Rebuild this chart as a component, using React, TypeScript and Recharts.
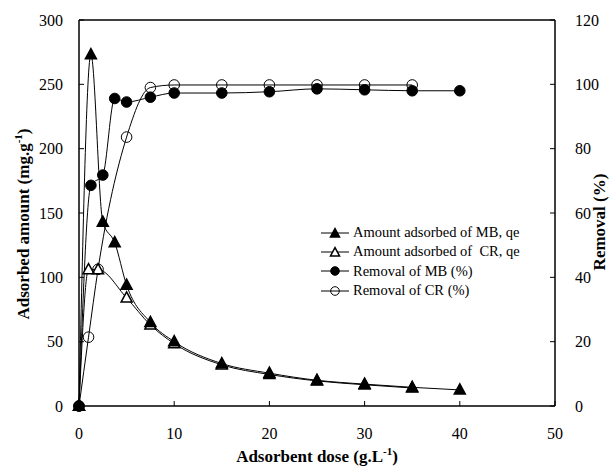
import { LineChart, Line, XAxis, YAxis, ReferenceLine } from 'recharts';

const doseMB = [0, 1.25, 2.5, 3.75, 5, 7.5, 10, 15, 20, 25, 30, 35, 40];
const qeMB = [0, 273, 143, 127, 94, 65, 50, 33, 25.5, 20, 17, 14.5, 12.5];
const removalMB = [0, 68.6, 71.8, 95.6, 94.5, 96, 97.3, 97.3, 97.7, 98.6, 98.3, 98, 98];

const doseCR = [0, 1, 2, 5, 7.5, 10, 15, 20, 25, 30, 35];
const qeCR = [0, 106, 106, 84, 63, 48.5, 32, 24.5, 19.5, 16.5, 14];
const removalCR = [0, 21.4, 42.5, 83.6, 99, 99.8, 99.8, 99.8, 99.8, 99.8, 99.8];

const xTicks = [0, 10, 20, 30, 40, 50];
const leftTicks = [0, 50, 100, 150, 200, 250, 300];
const rightTicks = [0, 20, 40, 60, 80, 100, 120];

const legendItems = [
  { label: 'Amount adsorbed of MB, qe', shape: 'triangle', filled: true },
  { label: 'Amount adsorbed of  CR, qe', shape: 'triangle', filled: false },
  { label: 'Removal of MB (%)', shape: 'circle', filled: true },
  { label: 'Removal of CR (%)', shape: 'circle', filled: false }
];

const font = '"Liberation Serif", "DejaVu Serif", "Times New Roman", Times, serif';

const toPoints = (xs: number[], ys: number[]) => xs.map((x, i) => ({ x, y: ys[i] }));

const Triangle = ({ cx, cy, filled, s = 5.5 }: any) => (
  <path
    d={`M${cx},${cy - s * 1.1}L${cx - s},${cy + s * 0.75}L${cx + s},${cy + s * 0.75}Z`}
    fill={filled ? '#000' : '#fff'}
    stroke='#000'
    strokeWidth={1.5}
  />
);

const Circle = ({ cx, cy, filled, r = 5.3 }: any) => (
  <circle cx={cx} cy={cy} r={r} fill={filled ? '#000' : 'none'} stroke='#000' strokeWidth={1} />
);

const makeDot = (shape: string, filled: boolean) => (props: any) => {
  const { cx, cy, index } = props;
  if (cx == null || cy == null) return <g key={index} />;
  return shape === 'triangle' ? (
    <Triangle key={index} cx={cx} cy={cy} filled={filled} />
  ) : (
    <Circle key={index} cx={cx} cy={cy} filled={filled} />
  );
};

const tickStyle = { fill: '#000', fontSize: 16, fontFamily: font };

const App = () => {
  return (
    <div style={{ position: 'absolute', left: 0, top: 0, width: 613, height: 470, background: '#fff', fontFamily: font }}>
      <LineChart width={613} height={470} margin={{ top: 20, right: 0, bottom: 0, left: 0 }} style={{ fontFamily: font }}>
        <XAxis
          type='number'
          dataKey='x'
          domain={[0, 50]}
          ticks={xTicks}
          height={64}
          tickSize={-5}
          tickMargin={27}
          axisLine={{ stroke: '#000', strokeWidth: 1.5 }}
          tickLine={{ stroke: '#000' }}
          tick={tickStyle}
        />
        <YAxis
          yAxisId='left'
          domain={[0, 300]}
          ticks={leftTicks}
          width={79}
          tickSize={-5}
          tickMargin={21}
          axisLine={{ stroke: '#000', strokeWidth: 1.5 }}
          tickLine={{ stroke: '#000' }}
          tick={tickStyle}
        />
        <YAxis
          yAxisId='right'
          orientation='right'
          domain={[0, 120]}
          ticks={rightTicks}
          width={58}
          tickSize={-5}
          tickMargin={25}
          axisLine={{ stroke: '#000', strokeWidth: 1.5 }}
          tickLine={{ stroke: '#000' }}
          tick={{ ...tickStyle, textAnchor: 'start' }}
        />
        <ReferenceLine yAxisId='left' y={300} stroke='#000' strokeWidth={1.5} />
        <Line
          yAxisId='left'
          data={toPoints(doseCR, qeCR)}
          dataKey='y'
          type='monotone'
          stroke='#000'
          strokeWidth={1}
          dot={makeDot('triangle', false)}
          isAnimationActive={false}
        />
        <Line
          yAxisId='left'
          data={toPoints(doseMB, qeMB)}
          dataKey='y'
          type='monotone'
          stroke='#000'
          strokeWidth={1}
          dot={makeDot('triangle', true)}
          isAnimationActive={false}
        />
        <Line
          yAxisId='right'
          data={toPoints(doseMB, removalMB)}
          dataKey='y'
          type='monotone'
          stroke='#000'
          strokeWidth={1}
          dot={makeDot('circle', true)}
          isAnimationActive={false}
        />
        <Line
          yAxisId='right'
          data={toPoints(doseCR, removalCR)}
          dataKey='y'
          type='monotone'
          stroke='#000'
          strokeWidth={1}
          dot={makeDot('circle', false)}
          isAnimationActive={false}
        />
      </LineChart>

      {/* axis titles */}
      <div
        style={{
          position: 'absolute',
          left: 23,
          top: 224,
          transform: 'translate(-50%, -50%) rotate(-90deg)',
          whiteSpace: 'nowrap',
          fontFamily: font,
          fontWeight: 'bold',
          fontSize: 17
        }}
      >
        Adsorbed amount (mg.g<sup style={{ fontSize: 11 }}>-1</sup>)
      </div>
      <div
        style={{
          position: 'absolute',
          left: 600,
          top: 222,
          transform: 'translate(-50%, -50%) rotate(-90deg)',
          whiteSpace: 'nowrap',
          fontFamily: font,
          fontWeight: 'bold',
          fontSize: 17
        }}
      >
        Removal (%)
      </div>
      <div
        style={{
          position: 'absolute',
          left: 317,
          top: 456,
          transform: 'translate(-50%, -50%)',
          whiteSpace: 'nowrap',
          fontFamily: font,
          fontWeight: 'bold',
          fontSize: 17
        }}
      >
        Adsorbent dose (g.L<sup style={{ fontSize: 11 }}>-1</sup>)
      </div>

      {/* legend */}
      <div style={{ position: 'absolute', left: 321, top: 223 }}>
        {legendItems.map((item) => (
          <div key={item.label} style={{ display: 'flex', alignItems: 'center', height: 19.3 }}>
            <svg width={28} height={14}>
              <line x1={0} y1={7} x2={28} y2={7} stroke='#000' strokeWidth={1} />
              {item.shape === 'triangle' ? (
                <Triangle cx={14} cy={7.5} filled={item.filled} s={4.5} />
              ) : (
                <Circle cx={14} cy={7} filled={item.filled} r={4.3} />
              )}
            </svg>
            <span style={{ marginLeft: 4, fontFamily: font, fontSize: 14.5, whiteSpace: 'pre' }}>{item.label}</span>
          </div>
        ))}
      </div>
    </div>
  );
};

export default App;
